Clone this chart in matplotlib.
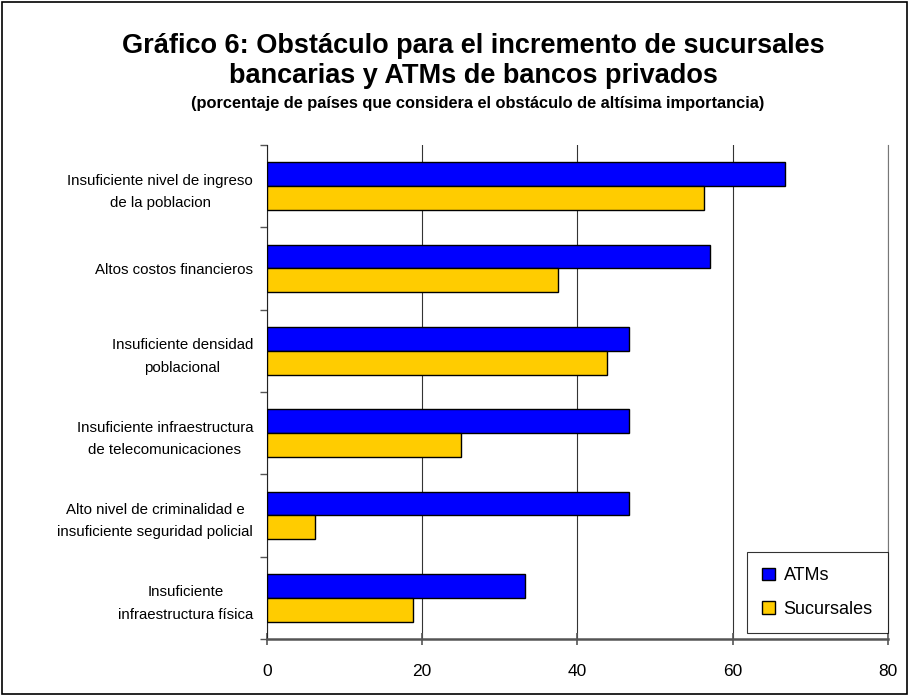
import numpy as np
import matplotlib
matplotlib.use("Agg")
import matplotlib.pyplot as plt
from matplotlib.patches import Rectangle

plt.rcParams['font.family'] = ['Liberation Sans', 'DejaVu Sans']

# obstacles, top to bottom
categorias = [
    "Insuficiente nivel de ingreso\nde la poblacion",
    "Altos costos financieros",
    "Insuficiente densidad\npoblacional",
    "Insuficiente infraestructura\nde telecomunicaciones",
    "Alto nivel de criminalidad e\ninsuficiente seguridad policial",
    "Insuficiente\ninfraestructura física",
]
atms = [66.7, 57.1, 46.7, 46.7, 46.7, 33.3]
sucursales = [56.3, 37.5, 43.8, 25.0, 6.25, 18.75]
xticks = [0, 20, 40, 60, 80]

fig = plt.figure(figsize=(9.09, 6.96), dpi=100)
ax = fig.add_axes([0.2937, 0.0819, 0.6832, 0.7098])

n = len(categorias)
y = np.arange(n)
h = 0.29
ax.barh(y - h / 2, atms, height=h, color='#0000FF', edgecolor='black',
        linewidth=1, label='ATMs', zorder=3)
ax.barh(y + h / 2, sucursales, height=h, color='#FFCC00', edgecolor='black',
        linewidth=1, label='Sucursales', zorder=3)

ax.set_ylim(n - 0.5, -0.5)
ax.set_xlim(0, 80)
ax.set_xticks(xticks)
ax.set_xticklabels([str(v) for v in xticks], fontsize=12.5)
ax.set_yticks(y)
ax.set_yticklabels(categorias, fontsize=10.8, multialignment='center',
                   linespacing=1.75)
ax.set_yticks(np.arange(n + 1) - 0.5, minor=True)
ax.tick_params(axis='y', which='major', length=0, pad=10)
ax.tick_params(axis='y', which='minor', length=5, width=1, color='#555555')
ax.tick_params(axis='x', direction='inout', length=8, width=1.2,
               color='#555555', pad=14)

ax.grid(axis='x', color='#333333', linewidth=0.8, zorder=0)
ax.spines['top'].set_visible(False)
ax.spines['right'].set_color('#777777')
ax.spines['left'].set_color('#222222')
ax.spines['bottom'].set_color('#555555')
ax.spines['bottom'].set_linewidth(1.8)

leg = ax.legend(loc='lower right', bbox_to_anchor=(1.0, 0.012), fontsize=13,
                frameon=True, fancybox=False, edgecolor='black',
                handlelength=0.7, handleheight=0.7, handletextpad=0.5,
                labelspacing=0.9, borderpad=0.85, borderaxespad=0)
leg.get_frame().set_linewidth(0.8)

fig.text(0.521, 0.934, "Gráfico 6: Obstáculo para el incremento de sucursales",
         ha='center', va='center', fontsize=19.5, fontweight='bold')
fig.text(0.521, 0.891, "bancarias y ATMs de bancos privados",
         ha='center', va='center', fontsize=19.5, fontweight='bold')
fig.text(0.526, 0.851,
         "(porcentaje de países que considera el obstáculo de altísima importancia)",
         ha='center', va='center', fontsize=11.8, fontweight='bold')

fig.patches.append(Rectangle((0.002, 0.003), 0.996, 0.994, transform=fig.transFigure,
                             fill=False, edgecolor='black', linewidth=1.2))

fig.savefig('out.png', dpi=100)
